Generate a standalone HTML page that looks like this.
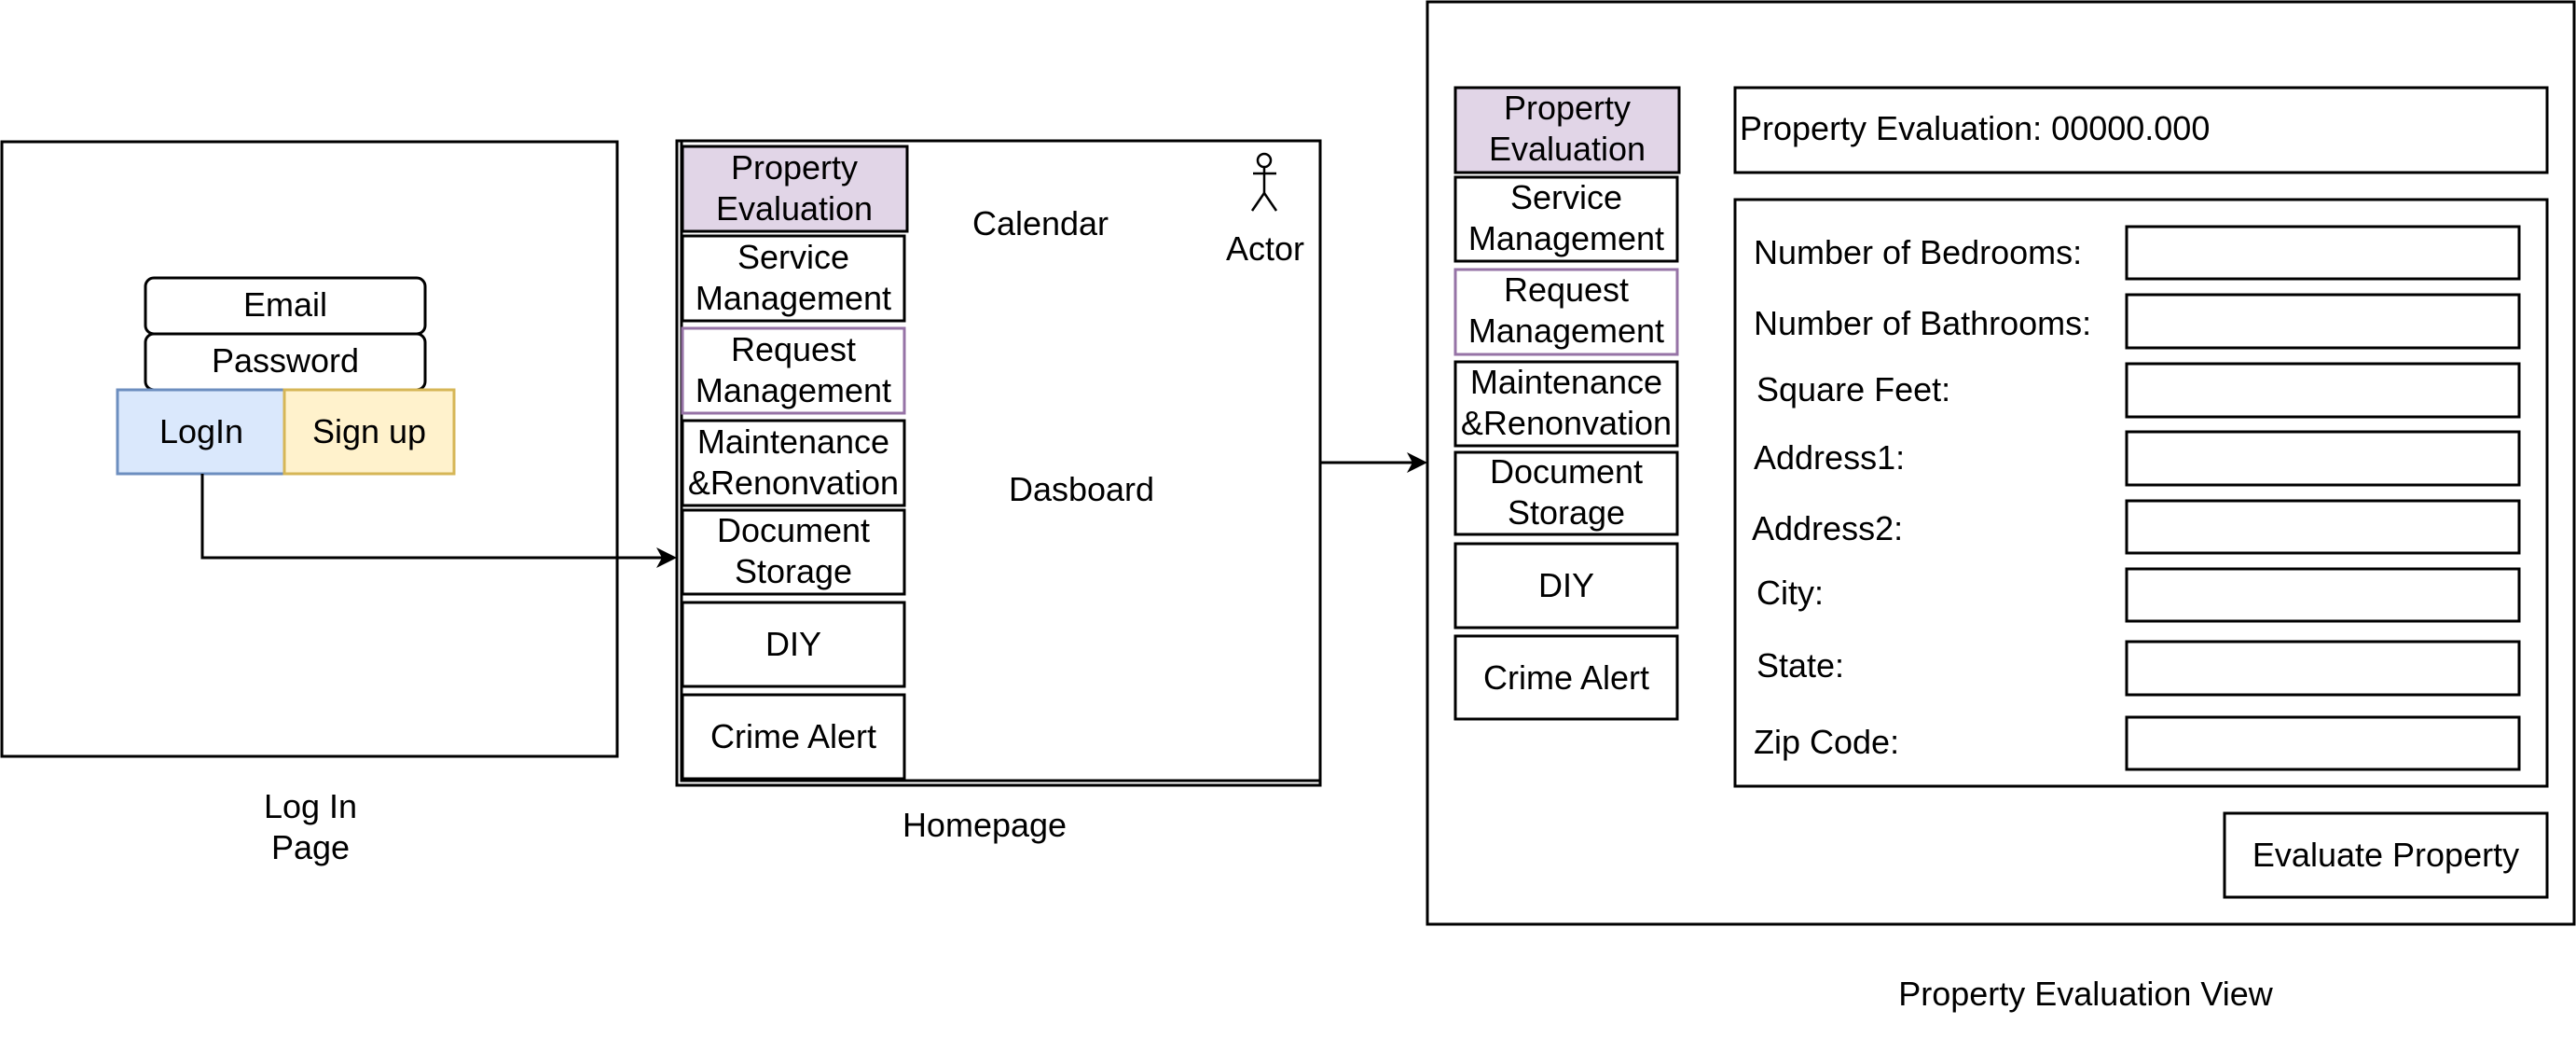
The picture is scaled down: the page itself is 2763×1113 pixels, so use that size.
<!DOCTYPE html>
<html><head><meta charset="utf-8"><style>
html,body{margin:0;padding:0;background:#fff;}
svg{display:block;}
text{font-family:"Liberation Sans",Arial,sans-serif;font-size:36px;fill:#000;}
</style></head><body>
<svg width="2763" height="1113" viewBox="0 0 2763 1113" xmlns="http://www.w3.org/2000/svg">
<g fill="none" stroke="#000" stroke-width="3">
<!-- Login page -->
<rect x="2" y="152" width="660" height="659" fill="#fff"/>
<rect x="156" y="298" width="300" height="60" rx="9" fill="#fff"/>
<rect x="156" y="358" width="300" height="60" rx="9" fill="#fff"/>
<rect x="126" y="418" width="179" height="90" fill="#dae8fc" stroke="#6c8ebf"/>
<rect x="305" y="418" width="182" height="90" fill="#fff2cc" stroke="#d6b656"/>
<polyline points="217,508 217,598 712,598"/>
<!-- Homepage -->
<rect x="726" y="151" width="690" height="691"/>
<polyline points="731,151 731,837 1416,837"/>
<rect x="732" y="157" width="241" height="91" fill="#e1d5e7"/>
<rect x="732" y="253" width="238" height="91" fill="#fff"/>
<rect x="732" y="352" width="238" height="91" fill="#fff" stroke="#9673a6"/>
<rect x="732" y="451" width="238" height="91" fill="#fff"/>
<rect x="732" y="547" width="238" height="90" fill="#fff"/>
<rect x="732" y="646" width="238" height="90" fill="#fff"/>
<rect x="732" y="745" width="238" height="90" fill="#fff"/>
<!-- actor -->
<circle cx="1356" cy="172" r="7" stroke-width="2.5"/>
<line x1="1356" y1="179" x2="1356" y2="207" stroke-width="2.5"/>
<line x1="1344" y1="186" x2="1369" y2="186" stroke-width="2.5"/>
<line x1="1356" y1="207" x2="1343" y2="226" stroke-width="2.5"/>
<line x1="1356" y1="207" x2="1369" y2="226" stroke-width="2.5"/>
<line x1="1416" y1="496" x2="1518" y2="496"/>
<!-- PE view -->
<rect x="1531" y="2" width="1230" height="989"/>
<rect x="1561" y="94" width="240" height="91" fill="#e1d5e7"/>
<rect x="1561" y="190" width="238" height="90" fill="#fff"/>
<rect x="1561" y="289" width="238" height="91" fill="#fff" stroke="#9673a6"/>
<rect x="1561" y="388" width="238" height="90" fill="#fff"/>
<rect x="1561" y="485" width="238" height="88" fill="#fff"/>
<rect x="1561" y="583" width="238" height="90" fill="#fff"/>
<rect x="1561" y="682" width="238" height="89" fill="#fff"/>
<rect x="1861" y="94" width="871" height="91"/>
<rect x="1861" y="214" width="871" height="629"/>
<rect x="2281" y="243" width="421" height="56"/>
<rect x="2281" y="316" width="421" height="57"/>
<rect x="2281" y="390" width="421" height="57"/>
<rect x="2281" y="463" width="421" height="57"/>
<rect x="2281" y="537" width="421" height="56"/>
<rect x="2281" y="610" width="421" height="56"/>
<rect x="2281" y="688" width="421" height="57"/>
<rect x="2281" y="769" width="421" height="56"/>
<rect x="2386" y="872" width="346" height="90"/>
</g>
<g fill="#000">
<polygon points="726,598 704,587 710,598 704,609"/>
<polygon points="1531,496 1509,485 1515,496 1509,507"/>
</g>
<g text-anchor="middle">
<text x="306" y="339">Email</text>
<text x="306" y="399">Password</text>
<text x="216" y="475">LogIn</text>
<text x="396" y="475">Sign up</text>
<text x="333" y="877">Log In</text>
<text x="333" y="921">Page</text>
<text x="852" y="192">Property</text><text x="852" y="236">Evaluation</text>
<text x="851" y="288">Service</text><text x="851" y="332">Management</text>
<text x="851" y="387">Request</text><text x="851" y="431">Management</text>
<text x="851" y="486">Maintenance</text><text x="851" y="530">&amp;Renonvation</text>
<text x="851" y="581">Document</text><text x="851" y="625">Storage</text>
<text x="851" y="703">DIY</text>
<text x="851" y="802">Crime Alert</text>
<text x="1116" y="252">Calendar</text>
<text x="1357" y="279">Actor</text>
<text x="1160" y="537">Dasboard</text>
<text x="1056" y="897">Homepage</text>
<text x="1681" y="128">Property</text><text x="1681" y="172">Evaluation</text>
<text x="1680" y="224">Service</text><text x="1680" y="268">Management</text>
<text x="1680" y="323">Request</text><text x="1680" y="367">Management</text>
<text x="1680" y="422">Maintenance</text><text x="1680" y="466">&amp;Renonvation</text>
<text x="1680" y="518">Document</text><text x="1680" y="562">Storage</text>
<text x="1680" y="640">DIY</text>
<text x="1680" y="739">Crime Alert</text>
<text x="2559" y="929">Evaluate Property</text>
<text x="2237" y="1078">Property Evaluation View</text>
</g>
<g>
<text x="1866" y="150">Property Evaluation: 00000.000</text>
<text x="1881" y="283">Number of Bedrooms:</text>
<text x="1881" y="359">Number of Bathrooms:</text>
<text x="1884" y="430">Square Feet:</text>
<text x="1881" y="503">Address1:</text>
<text x="1879" y="579">Address2:</text>
<text x="1884" y="648">City:</text>
<text x="1884" y="726">State:</text>
<text x="1881" y="808">Zip Code:</text>
</g>
</svg>
</body></html>
